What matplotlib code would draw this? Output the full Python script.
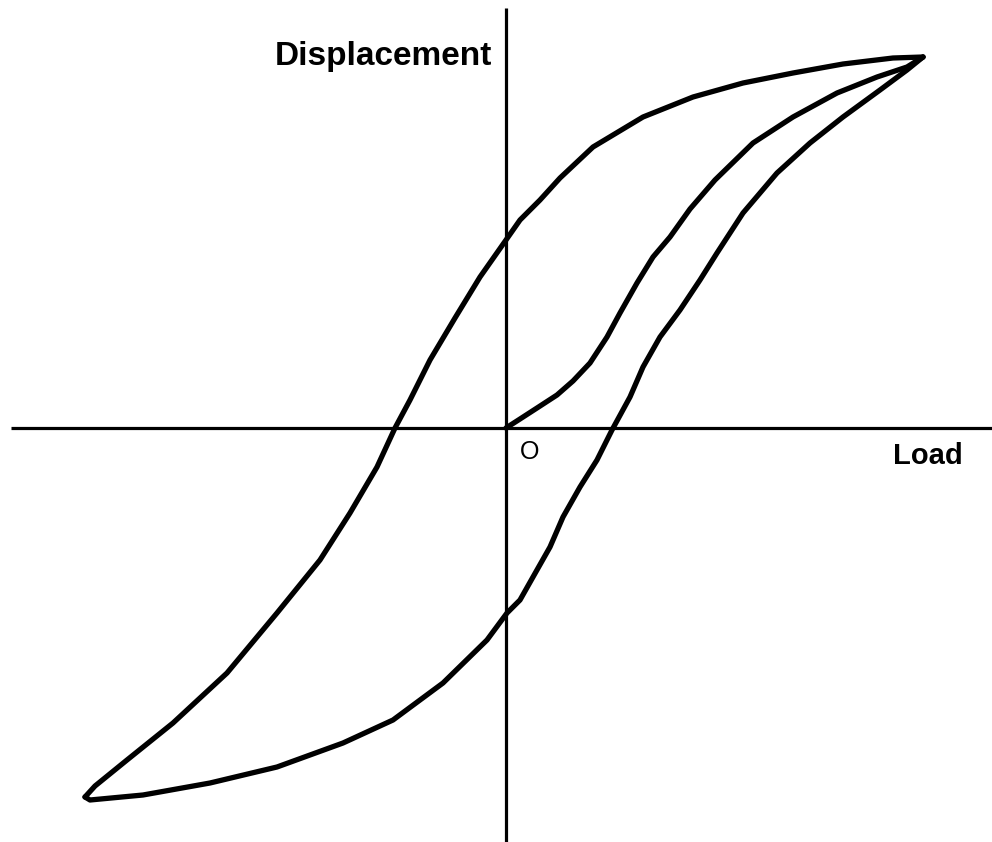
import numpy as np
import matplotlib.pyplot as plt

# values, in pixels relative to the origin O
# initial loading curve (from O up to the tip)
init_load = [0, 14, 31, 51, 67, 84, 101, 114, 131, 147, 164, 184, 209, 247, 287, 331, 371, 401, 417]
init_disp = [0, 9, 20, 33, 47, 65, 91, 115, 145, 171, 191, 219, 248, 285, 311, 335, 351, 361, 371]

# unloading branch (tip down to the bottom-left corner)
down_load = [417, 387, 337, 287, 237, 187, 137, 87, 54, 34, 14, 0, -26, -51, -76, -96, -111,
             -129, -156, -186, -229, -279, -333, -379, -411, -421]
down_disp = [371, 370, 364, 355, 345, 331, 311, 281, 250, 228, 208, 188, 151, 110, 68, 28, 0,
             -39, -85, -132, -185, -245, -295, -332, -358, -369]

# reloading branch (bottom-left corner back up to the tip)
up_load = [-421, -416, -363, -296, -229, -163, -113, -63, -19, 1, 14, 27, 44, 57, 74, 91,
           106, 124, 137, 154, 174, 194, 211, 237, 271, 304, 337, 374, 401, 417]
up_disp = [-369, -372, -367, -355, -339, -315, -292, -255, -212, -185, -172, -149, -119,
           -89, -59, -32, -2, 31, 61, 91, 118, 148, 175, 215, 255, 285, 311, 338, 358, 371]

fig = plt.figure(figsize=(9.92, 8.42), dpi=100)
ax = fig.add_axes([0, 0, 1, 1])
ax.set_xlim(-506, 992 - 506)
ax.set_ylim(428 - 842, 428)
ax.axis('off')

# the two axes
ax.plot([-495, 486], [0, 0], color='black', lw=2.3, solid_capstyle='butt')
ax.plot([0, 0], [-414, 420], color='black', lw=2.3, solid_capstyle='butt')

kw = dict(color='black', lw=3.8, solid_joinstyle='round', solid_capstyle='round')
ax.plot(init_load, init_disp, **kw)
ax.plot(down_load, down_disp, **kw)
ax.plot(up_load, up_disp, **kw)

ax.text(-14, 371, 'Displacement', ha='right', va='center', fontsize=24,
        fontweight='bold', family='Liberation Sans')
ax.text(457, -28, 'Load', ha='right', va='center', fontsize=21,
        fontweight='bold', family='Liberation Sans')
ax.text(24, -24, 'O', ha='center', va='center', fontsize=18, family='Liberation Sans')

fig.savefig('out.png', dpi=100)
